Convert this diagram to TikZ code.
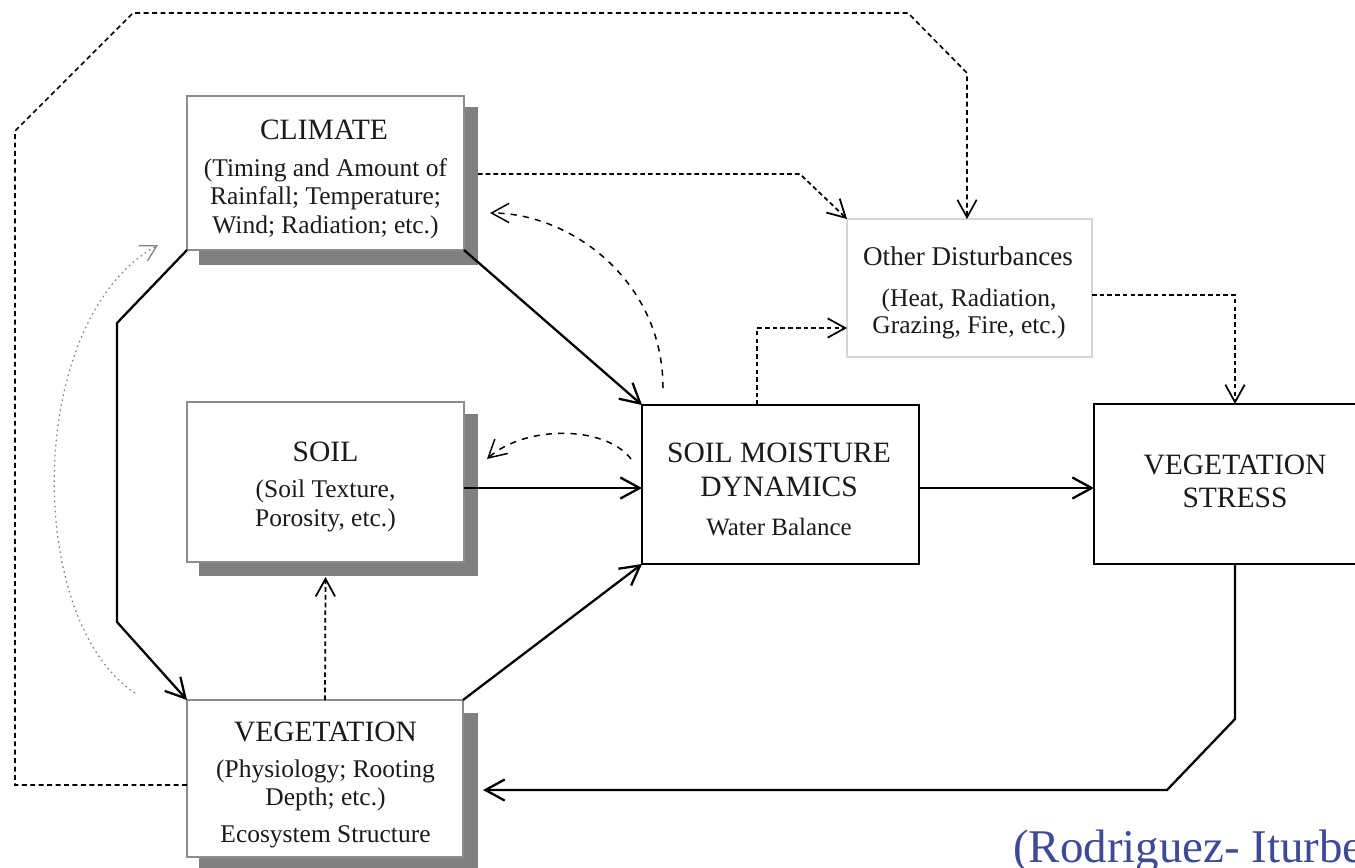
\documentclass[tikz,border=0pt]{standalone}
\usepackage{fontspec}
\setmainfont{Liberation Serif}
\usetikzlibrary{arrows.meta,calc}
\definecolor{shadowgray}{HTML}{808080}
\definecolor{boxgray}{HTML}{8C8C8C}
\definecolor{odgray}{HTML}{D5D5D5}
\definecolor{txt}{HTML}{1A1A1A}
\definecolor{citeblue}{HTML}{3E4A96}
\definecolor{dotgray}{HTML}{808080}
\begin{document}
\begin{tikzpicture}[x=0.02cm,y=-0.02cm,
  softbox/.style={draw=boxgray, line width=0.8pt, fill=white, inner sep=0pt, outer sep=0pt},
  hardbox/.style={draw=black, line width=1.3pt, fill=white, inner sep=0pt, outer sep=0pt},
  lightbox/.style={draw=odgray, line width=0.7pt, fill=white, inner sep=0pt, outer sep=0pt},
  boxshadow/.style={fill=shadowgray},
  ttl/.style={anchor=base, inner sep=0pt, text=txt, font=\fontsize{16.8}{18}\selectfont},
  subtxt/.style={anchor=base, inner sep=0pt, text=txt, font=\fontsize{14.5}{16}\selectfont},
  odttl/.style={anchor=base, inner sep=0pt, text=txt, font=\fontsize{15.4}{17}\selectfont},
  flow/.style={draw=black, line width=1.3pt, line join=miter, -{Straight Barb[length=11pt,width=12pt]}},
  dflow/.style={draw=black, line width=1pt, dash pattern=on 2.6pt off 1.8pt, -{Straight Barb[length=10pt,width=11pt]}},
  cflow/.style={draw=black, line width=0.85pt, dash pattern=on 3.5pt off 3.5pt, -{Straight Barb[length=10pt,width=11pt]}},
  longflow/.style={draw=black, line width=0.95pt, dash pattern=on 2.8pt off 2pt, -{Straight Barb[length=10pt,width=11pt]}},
  dotflow/.style={draw=dotgray, line width=0.7pt, dash pattern=on 0.9pt off 2pt, -{Straight Barb[length=9pt,width=10pt]}}
]
\useasboundingbox (0,0) rectangle (1355,867);
\clip (0,0) rectangle (1355,867);

% shadows
\fill[boxshadow] (199,107) rectangle (478,265);
\fill[boxshadow] (199,414) rectangle (478,576);
\fill[boxshadow] (199,713) rectangle (478,880);

% boxes
\node[softbox, minimum width=5.54cm, minimum height=3.08cm] (climate) at (325.5,173) {};
\node[softbox, minimum width=5.54cm, minimum height=3.2cm] (soil) at (325.5,482) {};
\node[softbox, minimum width=5.52cm, minimum height=3.14cm] (veg) at (325,778.5) {};
\node[hardbox, minimum width=5.54cm, minimum height=3.18cm] (smd) at (780.5,484.5) {};
\node[hardbox, minimum width=5.64cm, minimum height=3.2cm] (vs) at (1235,484) {};
\node[lightbox, minimum width=4.9cm, minimum height=2.76cm] (od) at (969.5,288) {};

% texts
\node[ttl] (climateT) at (324,139.6) {CLIMATE};
\node[subtxt] (climateA) at (325.5,176) {(Timing and Amount of};
\node[subtxt] (climateB) at (325.5,204.5) {Rainfall; Temperature;};
\node[subtxt] (climateC) at (325.5,233) {Wind; Radiation; etc.)};

\node[ttl] (soilT) at (325.5,461.6) {SOIL};
\node[subtxt] (soilA) at (325.5,497.8) {(Soil Texture,};
\node[subtxt] (soilB) at (325.5,526.5) {Porosity, etc.)};

\node[ttl] (vegT) at (325.5,741.6) {VEGETATION};
\node[subtxt] (vegA) at (325.5,777.8) {(Physiology; Rooting};
\node[subtxt] (vegB) at (325.5,805.8) {Depth; etc.)};
\node[subtxt] (vegC) at (325.5,842) {Ecosystem Structure};

\node[ttl] (smdT) at (779,462.6) {SOIL MOISTURE};
\node[ttl] (smdU) at (779,496.6) {DYNAMICS};
\node[subtxt, font=\fontsize{14.2}{16}\selectfont] (smdV) at (779,535) {Water Balance};

\node[ttl] (vsT) at (1235,474.6) {VEGETATION};
\node[ttl] (vsU) at (1235,507.6) {STRESS};

\node[odttl] (odT) at (968,265) {Other Disturbances};
\node[subtxt] (odA) at (969,306) {(Heat, Radiation,};
\node[subtxt] (odB) at (969,333) {Grazing, Fire, etc.)};

\node[anchor=base west, inner sep=0pt, text=citeblue, font=\fontsize{26.7}{30}\selectfont] (cite) at (1013,862) {(Rodriguez- Iturbe};

% helper coordinates
\coordinate (vegin) at (483,790);
\coordinate (climOut) at (478,174);
\coordinate (smdTop) at (663,388);
\coordinate (climIn) at (490,213);
\coordinate (smdLeft) at (631,459);
\coordinate (soilIn) at (487,459);
\coordinate (vegLeft) at (135,693);
\coordinate (climLow) at (158,245);

% solid connectors
\draw[flow] (climate.south east) -- (smd.north west);
\draw[flow] (soil.east |- 0,488) -- (smd.west |- 0,488);
\draw[flow] (smd.east |- 0,488) -- (vs.west |- 0,488);
\draw[flow] (veg.north east) -- (smd.south west);
\draw[flow] (climate.south west) -- (117,323) -- (117,622) -- (veg.north west);
\draw[flow] (vs.south) -- (1235,719) -- (1167,790) -- (vegin);

% dashed connectors
\draw[dflow] (veg.north) -- (soil.south |- 0,577);
\draw[dflow] (757,0 |- smd.north) -- (757,328) -- (od.west |- 0,328);
\draw[dflow] (climOut) -- (800,174) -- (od.north west);
\draw[dflow] (od.east |- 0,295) -- (1235,295) -- (vs.north);
\draw[longflow] (veg.west |- 0,785) -- (15,785) -- (15,131) -- (133,13) -- (908,13) -- (967,73) -- (967,0 |- od.north);

% curved feedbacks
\draw[cflow] (smdTop) .. controls (663,280) and (570,213) .. (climIn);
\draw[cflow] (smdLeft) .. controls (605,425) and (525,425) .. (soilIn);
\draw[dotflow] (vegLeft) .. controls (24,620) and (24,320) .. (climLow);
\end{tikzpicture}
\end{document}
